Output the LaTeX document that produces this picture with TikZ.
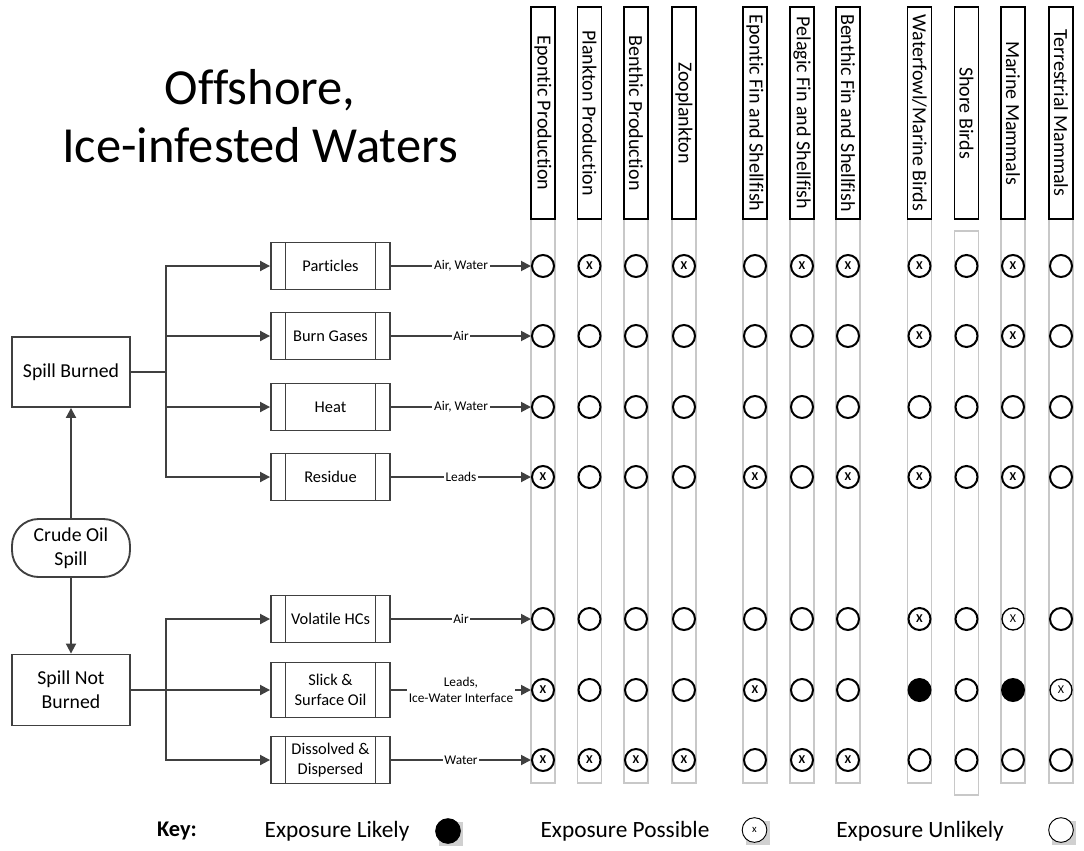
\documentclass[tikz,border=0pt]{standalone}
\usepackage{fontspec}
\setmainfont{Carlito}[Ligatures={NoCommon}]
\usepackage{xcolor}
\definecolor{cLine}{HTML}{404040}
\definecolor{cGuide}{HTML}{C8C8C8}
\definecolor{cShadow}{HTML}{D0D0D0}
\usetikzlibrary{positioning,arrows.meta}
\tikzset{
  node-box/.style={draw=cLine,line width=1.4pt,minimum width=88.5pt,
    minimum height=52.5pt,align=center,font=\fontsize{14.8}{18}\selectfont},
  node-start/.style={node-box,rounded corners=20pt,minimum height=43.5pt},
  node-proc/.style={draw=cLine,line width=1.4pt,minimum width=89.25pt,
    minimum height=35.25pt,align=center,inner sep=1pt,
    font=\fontsize{12.3}{15}\selectfont,
    path picture={\draw[cLine,line width=1.4pt]
      ([xshift=10.9pt]path picture bounding box.north west) --
      ([xshift=10.9pt]path picture bounding box.south west)
      ([xshift=-10.9pt]path picture bounding box.north east) --
      ([xshift=-10.9pt]path picture bounding box.south east);}},
  node-head/.style={draw=black,line width=1.4pt,rotate=-90,fill=white,
    minimum width=159pt,minimum height=18pt,inner sep=0pt,
    font=\fontsize{15}{18}\selectfont},
  col-guide/.style={draw=cGuide,line width=0.8pt},
  % exposure circles: u unlikely, p possible, t possible (thin), l likely
  exp-u/.style={circle,draw=black,line width=1.5pt,fill=white,
    minimum size=16.5pt,inner sep=0pt,node contents={}},
  exp-p/.style={exp-u,font=\fontsize{9}{9}\selectfont\bfseries,
    node contents={X}},
  exp-t/.style={exp-u,line width=1pt,font=\fontsize{9}{9}\selectfont,
    node contents={X}},
  exp-l/.style={circle,fill=black,minimum size=18pt,inner sep=0pt,
    node contents={}},
  key-text/.style={font=\fontsize{17.5}{21}\selectfont},
  key-circ/.style={circle,draw=black,line width=0.7pt,fill=white,
    minimum size=18.5pt,inner sep=0pt,font=\fontsize{8}{8}\selectfont},
  arrow/.style={-{Triangle[length=7.5pt,width=7.5pt]},line width=1.4pt,
    draw=cLine},
  edge-label/.style={fill=white,inner sep=1.2pt,align=center,
    font=\fontsize{10}{12}\selectfont},
}

\begin{document}
\begin{tikzpicture}[x=0.75pt,y=-0.75pt]
  \useasboundingbox (0,0) rectangle (1084,850);
  \def\colx{{543,589.5,636,684,755,802,848,919.5,966.5,1013,1061}}

  % title
  \node[align=center,font=\fontsize{37.9}{44}\selectfont] (title)
    at (260,116) {Offshore,\\Ice-infested Waters};

  % receptor columns
  \foreach \c in {1,...,11} {
    \pgfmathsetmacro\xx{\colx[\c-1]}
    \pgfmathsetmacro\gt{\c==9 ? 231 : 219}
    \pgfmathsetmacro\gb{\c==9 ? 795 : 783}
    \draw[col-guide] (\xx-12,\gt) rectangle (\xx+12,\gb);
  }
  \foreach \name [count=\c] in {Epontic Production,Plankton Production,
      Benthic Production,Zooplankton,Epontic Fin and Shellfish,
      Pelagic Fin and Shellfish,Benthic Fin and Shellfish,
      Waterfowl/Marine Birds,Shore Birds,Marine Mammals,
      Terrestrial Mammals} {
    \pgfmathsetmacro\xx{\colx[\c-1]}
    \node[node-head] (h-\c) at (\xx,113) {\name};
  }

  % spill boxes
  \node[node-box] (burned) at (71,372) {Spill Burned};
  \node[node-start] (crude) at (71,548) {Crude Oil\\Spill};
  \node[node-box,minimum height=53.25pt] (notburned) at (71,690)
    {Spill Not\\Burned};

  % fate boxes
  \node[node-proc] (part) at (330.5,266) {Particles};
  \node[node-proc] (gas) at (330.5,336) {Burn Gases};
  \node[node-proc] (heat) at (330.5,407) {Heat};
  \node[node-proc] (res) at (330.5,477) {Residue};
  \node[node-proc] (vol) at (330.5,619) {Volatile HCs};
  \node[node-proc,minimum height=41.25pt] (slick) at (330.5,690)
    {Slick \&\\Surface Oil};
  \node[node-proc] (diss) at (330.5,760) {Dissolved \&\\Dispersed};

  % exposure matrix
  \foreach \r/\y/\vals in {
      part/266/{u,p,u,p,u,p,p,p,u,p,u},
      gas/336/{u,u,u,u,u,u,u,p,u,p,u},
      heat/407/{u,u,u,u,u,u,u,u,u,u,u},
      res/477/{p,u,u,u,p,u,p,p,u,p,u},
      vol/619/{u,u,u,u,u,u,u,p,u,t,u},
      slick/690/{p,u,u,u,p,u,u,l,u,l,t},
      diss/760/{p,p,p,p,u,p,p,u,u,u,u}} {
    \foreach \v [count=\c] in \vals {
      \pgfmathsetmacro\xx{\colx[\c-1]}
      \node (c-\r-\c) at (\xx,\y) [exp-\v];
    }
  }

  % connectors
  \draw[arrow] (crude.north) -- (burned.south);
  \draw[arrow] (crude.south) -- (notburned.north);
  \coordinate[right=26.25pt of burned.east] (b-split);
  \coordinate[right=26.25pt of notburned.east] (n-split);
  \foreach \t in {part,gas,heat,res}
    \draw[arrow] (burned.east) -- (b-split) |- (\t.west);
  \foreach \t in {vol,slick,diss}
    \draw[arrow] (notburned.east) -- (n-split) |- (\t.west);

  \draw[arrow] (part.east) -- node[edge-label] {Air, Water} (c-part-1.west);
  \draw[arrow] (gas.east) -- node[edge-label] {Air} (c-gas-1.west);
  \draw[arrow] (heat.east) -- node[edge-label] {Air, Water} (c-heat-1.west);
  \draw[arrow] (res.east) -- node[edge-label] {Leads} (c-res-1.west);
  \draw[arrow] (vol.east) -- node[edge-label] {Air} (c-vol-1.west);
  \draw[arrow] (slick.east) -- node[edge-label]
    {Leads,\\Ice-Water Interface} (c-slick-1.west);
  \draw[arrow] (diss.east) -- node[edge-label] {Water} (c-diss-1.west);

  % key
  \node[font=\fontsize{16.8}{20}\selectfont\bfseries] (key)
    at (177,831) {Key:};
  \node[key-text] (k-lik) at (337,831) {Exposure Likely};
  \node[key-text] (k-pos) at (625,831) {Exposure Possible};
  \node[key-text] (k-unl) at (920,831) {Exposure Unlikely};
  \fill[cShadow] (439,822) rectangle (463,846);
  \fill[cShadow] (745.5,821) rectangle (769.5,845);
  \fill[cShadow] (1052,821) rectangle (1076,845);
  \node[key-circ,fill=black] (s-lik) at (448,831) {};
  \node[key-circ] (s-pos) at (754.5,830) {x};
  \node[key-circ] (s-unl) at (1061,830) {};
\end{tikzpicture}
\end{document}
